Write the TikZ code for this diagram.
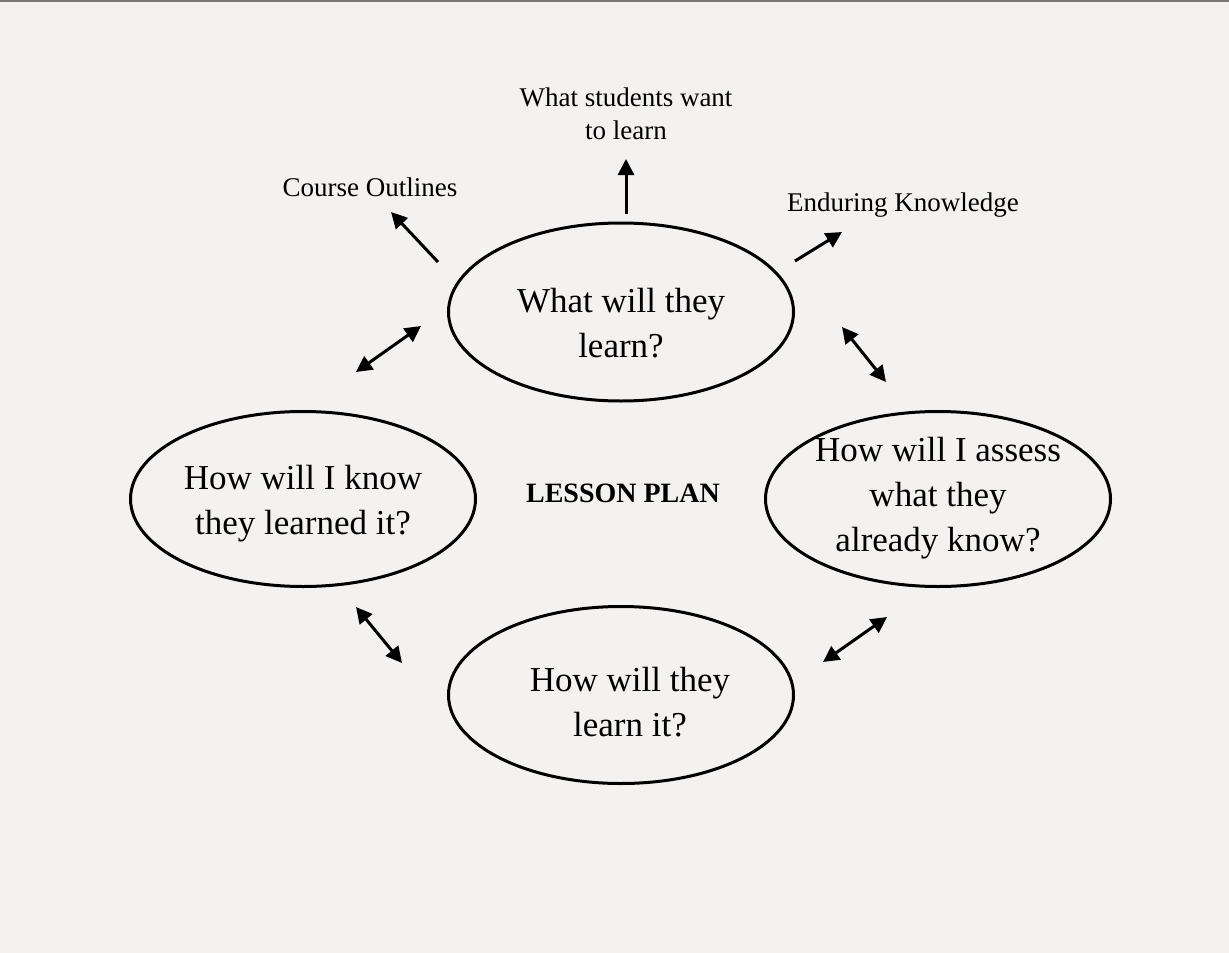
\documentclass[tikz,border=0pt]{standalone}
\usepackage{fontspec}
\setmainfont{Liberation Serif}
\usetikzlibrary{arrows.meta,shapes.geometric}
\definecolor{bg}{RGB}{243,242,240}
\definecolor{topline}{RGB}{120,120,118}
\begin{document}
\begin{tikzpicture}[x=1pt,y=-1pt,
  bubble/.style={draw=black,line width=3pt,ellipse,inner sep=0pt},
  bigtxt/.style={font=\fontsize{35}{45}\selectfont,align=center,inner sep=0pt},
  smalltxt/.style={font=\fontsize{27}{33}\selectfont,align=center,inner sep=0pt},
  onearrow/.style={line width=3pt,-{Triangle[length=16pt,width=16pt]}},
  twoarrow/.style={line width=3pt,{Triangle[length=16pt,width=16pt]}-{Triangle[length=16pt,width=16pt]}}]
\fill[bg] (0,0) rectangle (1229,953);
\useasboundingbox (0,0) rectangle (1229,953);
\draw[topline,line width=2pt] (0,1) -- (1229,1);
% ellipses
\node[bubble,minimum width=345pt,minimum height=178pt] (top) at (621,312) {};
\node[bubble,minimum width=345pt,minimum height=175pt] (left) at (303,499) {};
\node[bubble,minimum width=345pt,minimum height=175pt] (right) at (938,499) {};
\node[bubble,minimum width=345pt,minimum height=177pt] (bottom) at (621,695) {};
% ellipse texts
\node[bigtxt] (toptxt) at (621,323) {What will they\\learn?};
\node[bigtxt] (lefttxt) at (303,504) {How will I know\\they learned it?};
\node[bigtxt] (righttxt) at (938,498) {How will I assess\\what they\\already know?};
\node[bigtxt] (bottomtxt) at (630,702) {How will they\\learn it?};
\node[font=\fontsize{28}{32}\selectfont\bfseries,inner sep=0pt] (lesson) at (623,493) {LESSON PLAN};
% labels
\node[smalltxt] (want) at (626,114) {What students want\\to learn};
\node[smalltxt] (outlines) at (370,187) {Course Outlines};
\node[smalltxt] (enduring) at (903,205) {Enduring Knowledge};
% arrow endpoints
\coordinate (a1s) at (626,214); \coordinate (a1e) at (626,159);
\coordinate (a2s) at (438,262); \coordinate (a2e) at (391,212);
\coordinate (a3s) at (795,261); \coordinate (a3e) at (842,232);
\coordinate (d1s) at (356,372); \coordinate (d1e) at (421,326);
\coordinate (d2s) at (842,327); \coordinate (d2e) at (886,382);
\coordinate (d3s) at (356,607); \coordinate (d3e) at (402,663);
\coordinate (d4s) at (823,662); \coordinate (d4e) at (887,617);
\draw[onearrow] (a1s) -- (a1e);
\draw[onearrow] (a2s) -- (a2e);
\draw[onearrow] (a3s) -- (a3e);
\draw[twoarrow] (d1s) -- (d1e);
\draw[twoarrow] (d2s) -- (d2e);
\draw[twoarrow] (d3s) -- (d3e);
\draw[twoarrow] (d4s) -- (d4e);
\end{tikzpicture}
\end{document}
